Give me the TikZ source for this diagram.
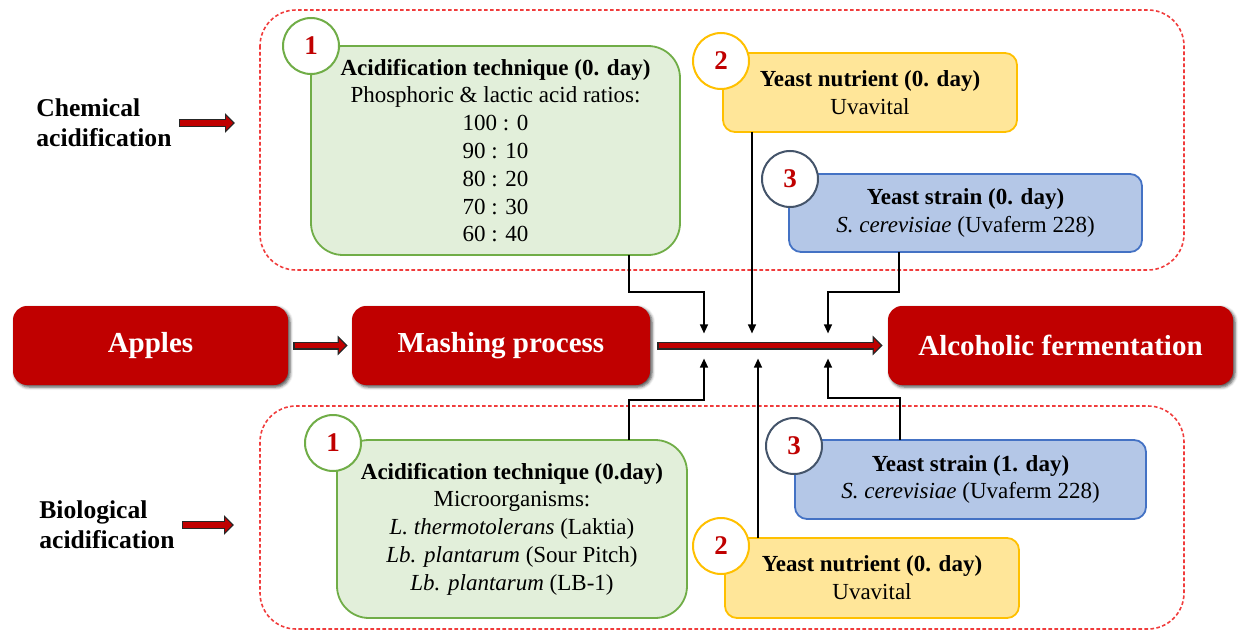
\documentclass[tikz,border=0pt]{standalone}
\usepackage{fontspec}
\setmainfont{Liberation Serif}
\usetikzlibrary{arrows.meta,calc,shadows.blur}
\definecolor{appred}{HTML}{C00000}
\definecolor{grfill}{HTML}{E2EFDA}
\definecolor{grline}{HTML}{70AD47}
\definecolor{yefill}{HTML}{FFE699}
\definecolor{yeline}{HTML}{FFC000}
\definecolor{blfill}{HTML}{B4C7E7}
\definecolor{blline}{HTML}{4472C4}
\definecolor{numline}{HTML}{44546A}
\definecolor{dashred}{RGB}{240,60,60}
\begin{document}
\begin{tikzpicture}[x=0.5pt,y=-0.5pt,
  group/.style={draw=dashred,line width=0.8pt,dash pattern=on 1.8pt off 1.2pt,rounded corners=18pt},
  stage/.style={fill=appred,rounded corners=7pt,minimum height=39.5pt,inner sep=0pt,text=white,
    font=\fontsize{14.5}{17}\selectfont\bfseries,
    blur shadow={shadow xshift=1pt,shadow yshift=-1pt,shadow blur radius=1.5pt,shadow opacity=70}},
  card/.style={draw=#1line,fill=#1fill,line width=0.9pt,align=center,inner sep=0pt,outer sep=0pt,
    font=\fontsize{11.5}{13.9}\selectfont},
  num/.style={circle,draw=#1,fill=white,line width=1pt,minimum size=28pt,inner sep=0pt,
    text=appred,font=\fontsize{13.5}{16}\selectfont\bfseries},
  side/.style={anchor=west,align=left,inner sep=0pt,font=\fontsize{12.8}{15}\selectfont\bfseries},
  feed/.style={line width=0.65pt,-{Triangle[length=4.5pt,width=4pt]},shorten >=6.3pt},
  fatarrow/.style={draw=appred,line width=2.6pt,-{Triangle[length=3.4pt,width=6.8pt]},
    shorten >=1pt,shorten <=0.6pt,
    preaction={draw=black!85,line width=4pt,-{Triangle[length=5pt,width=9.6pt]},
      shorten >=0pt,shorten <=0pt}}]
\useasboundingbox (0,0) rectangle (1243,631);
\draw[group] (260,10) rectangle (1184,270);
\draw[group] (260,406) rectangle (1184,629);
\node[card=gr,rounded corners=16pt,minimum width=184.5pt,minimum height=104.5pt] (gA) at (495.5,150.5)
  {\textbf{Acidification technique (0. day)}\\Phosphoric \& lactic acid ratios:\\100 : 0\\90 : 10\\80 : 20\\70 : 30\\60 : 40};
\node[card=ye,rounded corners=6pt,minimum width=147pt,minimum height=39.5pt] (yA) at (870,92.5)
  {\textbf{Yeast nutrient (0. day)}\\Uvavital};
\node[card=bl,rounded corners=6pt,minimum width=176.5pt,minimum height=39pt] (bA) at (965.5,213)
  {\textbf{Yeast strain (0. day)}\\\textit{S. cerevisiae} (Uvaferm 228)};
\node[card=gr,rounded corners=16pt,minimum width=175pt,minimum height=89pt] (gB) at (512,529)
  {\textbf{Acidification technique (0.day)}\\Microorganisms:\\\textit{L. thermotolerans} (Laktia)\\\textit{Lb. plantarum} (Sour Pitch)\\\textit{Lb. plantarum} (LB-1)};
\node[card=bl,rounded corners=6pt,minimum width=175.5pt,minimum height=39.5pt] (bB) at (970.5,479.5)
  {\textbf{Yeast strain (1. day)}\\\textit{S. cerevisiae} (Uvaferm 228)};
\node[card=ye,rounded corners=6pt,minimum width=147pt,minimum height=40pt] (yB) at (872,578)
  {\textbf{Yeast nutrient (0. day)}\\Uvavital};
\node[num=grline] (nA1) at (311,46) {1};
\node[num=yeline] (nA2) at (721,61) {2};
\node[num=numline] (nA3) at (790,179) {3};
\node[num=grline] (nB1) at (333,443) {1};
\node[num=numline] (nB3) at (794,446) {3};
\node[num=yeline] (nB2) at (721,546) {2};
\node[stage,minimum width=137.5pt] (apples) at (150.5,345.5) {Apples};
\node[stage,minimum width=149pt] (mash) at (501,345.5) {Mashing process};
\node[stage,minimum width=172.5pt] (ferm) at (1060.5,345.5) {Alcoholic fermentation};
\node[side] (chem) at (36,123) {Chemical\\acidification};
\node[side] (bio) at (39,525) {Biological\\acidification};
\coordinate (chemtip) at (235,123);
\coordinate (biotip) at (234,525);
\coordinate (jA) at (704,346);
\coordinate (jB) at (752,346);
\coordinate (jC) at (828,346);
\coordinate (jD) at (758,346);
\draw[feed] ($(gA.south east)+(-51,0)$) |- ($(jA)+(0,-54)$) -- (jA);
\draw[feed] ($(yA.south west)+(29,0)$) -- (jB);
\draw[feed] ($(bA.south west)+(110,0)$) |- ($(jC)+(0,-54)$) -- (jC);
\draw[feed] ($(gB.north east)+(-58,0)$) |- ($(jA)+(0,54)$) -- (jA);
\draw[feed] ($(yB.north west)+(33,0)$) -- (jD);
\draw[feed] ($(bB.north west)+(105,0)$) |- ($(jC)+(0,52)$) -- (jC);
\draw[fatarrow] ([xshift=2.5pt]apples.east) -- ([xshift=-2pt]mash.west);
\draw[fatarrow] ([xshift=3.5pt]mash.east) -- ([xshift=-2.5pt]ferm.west);
\draw[fatarrow] ([xshift=3.5pt]chem.east) -- (chemtip);
\draw[fatarrow] ([xshift=3.5pt]bio.east) -- (biotip);
\end{tikzpicture}
\end{document}
